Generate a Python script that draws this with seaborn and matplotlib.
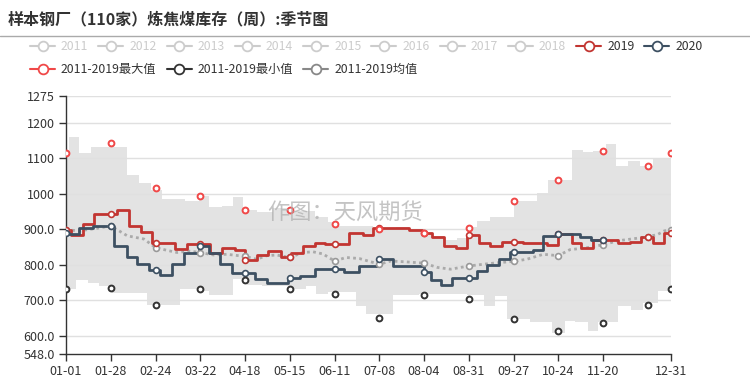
import numpy as np
import matplotlib
matplotlib.use("Agg")
import matplotlib.pyplot as plt
from matplotlib.lines import Line2D
import seaborn as sns

# x axis is the day of the year (0 = 01-01, 365 = 12-31)
tick_days = [0, 27, 54, 81, 108, 135, 162, 189, 216, 243, 270, 297, 324, 365]
tick_labels = ["01-01", "01-28", "02-24", "03-22", "04-18", "05-15", "06-11",
               "07-08", "08-04", "08-31", "09-27", "10-24", "11-20", "12-31"]
marker_days = [0, 27, 54, 81, 108, 135, 162, 189, 216, 243, 270, 297, 324, 351, 365]

y_ticks = [548, 600, 700, 800, 900, 1000, 1100, 1200, 1275]
y_tick_labels = ["548.0", "600.0", "700.0", "800.0", "900.0", "1000", "1100", "1200", "1275"]

# 2019 weekly stock (step changes)
days_2019 = [0, 3, 10, 17, 31, 38, 45, 52, 66, 73, 87, 94, 102, 108, 115, 122, 130, 136,
             143, 150, 156, 171, 179, 185, 199, 207, 215, 221, 228, 235, 242, 249, 256,
             263, 276, 290, 297, 305, 311, 318, 333, 340, 347, 354, 361, 365]
vals_2019 = [897, 883, 914, 942, 955, 909, 892, 862, 843, 858, 832, 848, 840, 813, 826,
             839, 820, 832, 851, 862, 858, 890, 883, 902, 903, 898, 888, 879, 853, 848,
             883, 862, 853, 864, 862, 855, 886, 862, 848, 869, 860, 865, 878, 860, 889, 889]

# 2020 weekly stock (ends at 11-20)
days_2020 = [0, 2, 8, 16, 29, 37, 43, 50, 57, 64, 71, 80, 86, 93, 100, 114, 121, 134,
             141, 150, 168, 177, 189, 197, 216, 220, 226, 233, 248, 254, 261, 268, 282,
             288, 296, 310, 317, 324]
vals_2020 = [888, 885, 902, 909, 853, 822, 801, 784, 771, 803, 834, 853, 832, 803, 777,
             759, 749, 761, 768, 787, 778, 795, 815, 795, 778, 756, 742, 762, 782, 798,
             816, 836, 840, 881, 886, 878, 870, 870]

# 2011-2019 mean
mean_days = [0, 8, 20, 27, 37, 47, 54, 61, 67, 74, 81, 89, 97, 108, 115, 121, 127, 135,
             143, 149, 155, 162, 169, 177, 189, 196, 204, 216, 224, 232, 243, 252, 260,
             270, 278, 288, 297, 304, 315, 324, 333, 341, 351, 357, 361, 365]
mean_vals = [898, 895, 903, 909, 881, 872, 848, 840, 834, 838, 834, 827, 829, 823, 815,
             825, 827, 820, 834, 836, 830, 810, 820, 817, 801, 810, 808, 804, 792, 787,
             796, 801, 805, 809, 815, 829, 825, 842, 848, 856, 867, 872, 878, 885, 895, 898]

# 2011-2019 max / min at marker days
max_vals = [1115, 1143, 1015, 994, 955, 955, 915, 899, 888, 903, 978, 1038, 1121, 1079, 1115]
min_vals = [730, 735, 686, 730, 756, 731, 718, 649, 715, 703, 647, 614, 635, 687, 730]

# shaded max-min range (step changes)
top_days = [0, 2, 8, 15, 26, 29, 37, 44, 51, 58, 72, 80, 86, 94, 101, 107, 115, 125,
            136, 150, 158, 165, 172, 185, 199, 207, 215, 221, 228, 236, 243, 248, 256,
            262, 270, 284, 291, 305, 312, 318, 326, 332, 339, 346, 354]
top_vals = [1115, 1159, 1114, 1131, 1143, 1131, 1053, 1030, 1010, 985, 978, 992, 962,
            965, 990, 955, 948, 960, 950, 935, 920, 910, 908, 903, 905, 900, 888, 880,
            870, 875, 905, 924, 933, 935, 978, 1001, 1039, 1124, 1117, 1120, 1139, 1078,
            1092, 1078, 1099]
bot_days = [0, 6, 13, 20, 28, 49, 69, 81, 86, 101, 109, 118, 137, 145, 151, 158, 175,
            181, 197, 213, 242, 252, 259, 266, 280, 293, 301, 307, 315, 321, 333, 341,
            348, 357]
bot_vals = [730, 757, 749, 740, 721, 686, 730, 726, 713, 759, 742, 740, 730, 740, 716,
            724, 683, 660, 713, 716, 713, 683, 712, 646, 638, 608, 641, 638, 612, 638,
            683, 671, 692, 726]

legend_row1 = ["2011", "2012", "2013", "2014", "2015", "2016", "2017", "2018", "2019", "2020"]
legend_row2 = ["2011-2019最大值", "2011-2019最小值", "2011-2019均值"]

c2019 = "#c23531"
c2020 = "#3d5062"
cmax = "#f04848"
cmin = "#333333"
cmean = "#aaaaaa"
cband = "#e3e3e3"
cgray = "#cccccc"


def step_at(days, vals, at):
    idx = np.searchsorted(days, at, side="right") - 1
    return np.asarray(vals)[idx]


sns.set_style("white")
plt.rcParams["font.family"] = ["Noto Sans CJK SC", "DejaVu Sans"]

fig = plt.figure(figsize=(7.5, 3.8), dpi=100)
ax = fig.add_axes([66 / 750, 1 - 354 / 380, 605 / 750, 258 / 380])

# band
grid = np.union1d(np.union1d(top_days, bot_days), [365])
ax.fill_between(grid, step_at(bot_days, bot_vals, grid), step_at(top_days, top_vals, grid),
                step="post", color=cband, lw=0, zorder=1)

for yv in y_ticks[1:]:
    ax.axhline(yv, color="#e0e0e0", lw=1, zorder=1.5)

# mean
sns.lineplot(x=mean_days, y=mean_vals, ax=ax, color=cmean, lw=2,
             linestyle=(0, (1, 1.2)), zorder=2)
mk_mean = [v for d, v in zip(mean_days, mean_vals) if d in marker_days]
ms = 4.2
ax.plot(marker_days, mk_mean, ls="none", marker="o", ms=ms, mfc="white", mec="#999999",
        mew=1.2, zorder=5)

# 2019 and 2020
sns.lineplot(x=days_2019, y=vals_2019, ax=ax, color=c2019, lw=2,
             drawstyle="steps-post", zorder=3)
sns.lineplot(x=days_2020, y=vals_2020, ax=ax, color=c2020, lw=2,
             drawstyle="steps-post", zorder=4)
ax.plot(marker_days, step_at(days_2019, vals_2019, marker_days), ls="none", marker="o",
        ms=ms, mfc="white", mec=c2019, mew=1.2, zorder=5)
md20 = [d for d in marker_days if d <= days_2020[-1]]
ax.plot(md20, step_at(days_2020, vals_2020, md20), ls="none", marker="o",
        ms=ms, mfc="white", mec=c2020, mew=1.2, zorder=5)

# max / min points
ax.plot(marker_days, max_vals, ls="none", marker="o", ms=ms, mfc="white", mec=cmax,
        mew=1.4, zorder=5)
ax.plot(marker_days, min_vals, ls="none", marker="o", ms=ms, mfc="white", mec=cmin,
        mew=1.4, zorder=5)

ax.set_xlim(0, 365)
ax.set_ylim(548, 1275)
ax.set_xticks(tick_days)
ax.set_xticklabels(tick_labels)
ax.set_yticks(y_ticks)
ax.set_yticklabels(y_tick_labels)
ax.tick_params(axis="both", labelsize=9, colors="#333333", length=5, width=1,
               direction="out", pad=3)
ax.tick_params(axis="x", bottom=True)
ax.tick_params(axis="y", left=True)
for s in ["top", "right"]:
    ax.spines[s].set_visible(False)
for s in ["left", "bottom"]:
    ax.spines[s].set_color("#333333")
    ax.spines[s].set_linewidth(1)
ax.set_xlabel("")
ax.set_ylabel("")
ax.patch.set_alpha(0)

# watermark
fig.text(345 / 750, 1 - 213 / 380, "作图：天风期货", fontsize=16, color="#b0b0b0",
         alpha=0.75, ha="center", va="center", zorder=10)

# title and separator
fig.text(8 / 750, 1 - 19 / 380, "样本钢厂（110家）炼焦煤库存（周）:季节图", fontsize=11.5,
         fontweight="bold", color="#333333", ha="left", va="center")
fig.add_artist(Line2D([0, 1], [1 - 36 / 380, 1 - 36 / 380], transform=fig.transFigure,
                      color="#aaaaaa", lw=1))

# legend drawn by hand
renderer = fig.canvas.get_renderer()


def legend_row(labels, colors, text_colors, ypix, x0=30, gap=10):
    x = x0
    yf = 1 - ypix / 380
    for lab, col, tcol in zip(labels, colors, text_colors):
        fig.add_artist(Line2D([x / 750, (x + 25) / 750], [yf, yf], transform=fig.transFigure,
                              color=col, lw=1.5))
        fig.add_artist(Line2D([(x + 12.5) / 750], [yf], transform=fig.transFigure,
                              marker="o", ms=7, mfc="white", mec=col, mew=1.3))
        t = fig.text((x + 31) / 750, yf, lab, fontsize=8.8, color=tcol,
                     ha="left", va="center")
        w = t.get_window_extent(renderer).width
        x = x + 31 + w + gap


row1_cols = [cgray] * 8 + [c2019, c2020]
row1_text = [cgray] * 8 + ["#333333", "#333333"]
legend_row(legend_row1, row1_cols, row1_text, 46)
legend_row(legend_row2, [cmax, cmin, "#888888"], ["#333333"] * 3, 69)

fig.savefig("out.png", dpi=100)
